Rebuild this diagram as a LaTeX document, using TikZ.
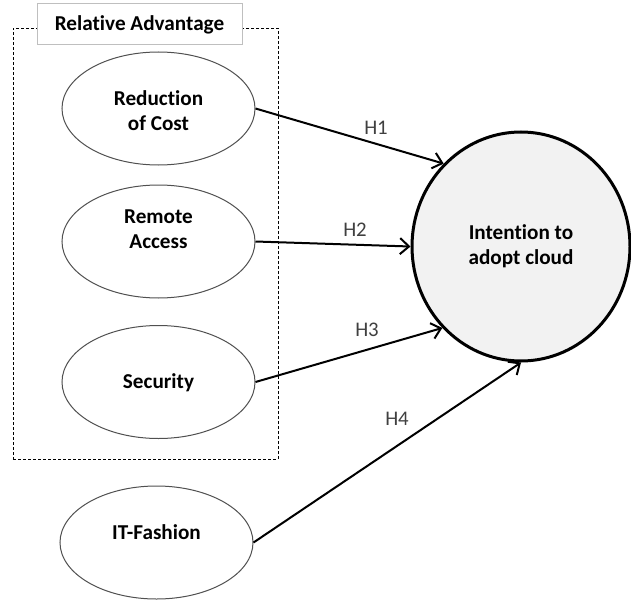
\documentclass[tikz,border=0pt]{standalone}
\usepackage{fontspec}
\setmainfont{Carlito}[Ligatures=NoCommon]
\usepackage{tikz}
\usetikzlibrary{shapes.geometric, arrows.meta}
\definecolor{rim}{HTML}{505050}
\definecolor{hcol}{HTML}{404040}
\definecolor{circfill}{HTML}{F2F2F2}
\definecolor{titlerim}{HTML}{BFBFBF}
\newcommand{\boldtxt}{\fontsize{10.6}{12.5}\selectfont\bfseries}
\begin{document}
\begin{tikzpicture}[x=0.5pt, y=-0.5pt,
  group/.style = {draw,dash pattern=on 1.5pt off 1pt,line width=0.4pt,
        minimum width=132.5pt,minimum height=215.5pt,inner sep=0pt},
  title/.style = {draw=titlerim,fill=white,line width=0.5pt,font=\boldtxt,
        minimum width=102.5pt,minimum height=20.5pt,inner sep=0pt},
  factor/.style 2 args = {ellipse,draw=rim,line width=0.5pt,fill=white,
        minimum width=96.5pt,minimum height=56.5pt,inner sep=0pt,
        label={[font=\boldtxt,align=center,yshift=#2]center:#1}},
  target/.style = {ellipse,draw,line width=1.5pt,fill=circfill,font=\boldtxt,
        minimum width=109pt,minimum height=114.5pt,align=center},
  hyp/.style = {text=hcol,inner sep=0pt,font=\fontsize{10.4}{12}\selectfont}]
 \useasboundingbox (0,0) rectangle (631,599);
 \node[group] (adv) at (145.5,243.5) {};
 \node[title] (advt) at (139.5,24.5) {Relative Advantage};
 \node[factor={Reduction\\of Cost}{-1pt}] (rc) at (158.5,108.5) {};
 \node[factor={Remote\\Access}{6pt}] (ra) at (158.5,241.5) {};
 \node[factor={Security}{-0.5pt}] (sec) at (158.5,382) {};
 \node[factor={IT-Fashion}{5pt}] (itf) at (156.5,542.5) {};
 \node[target] (ic) at (521,246.5) {Intention to\\adopt cloud};
 \node[hyp] (h1) at (376,128) {H1};
 \node[hyp] (h2) at (355,230) {H2};
 \node[hyp] (h3) at (367,330) {H3};
 \node[hyp] (h4) at (397,419) {H4};
 \begin{scope}[line width=1pt,-{Straight Barb[length=4.5pt,width=8pt]}]
  \path
  (rc.east) edge (ic.133)
  (ra.east) edge (ic.west)
  (sec.east) edge (ic.226)
  (itf.east) edge (ic.south);
 \end{scope}
\end{tikzpicture}
\end{document}
